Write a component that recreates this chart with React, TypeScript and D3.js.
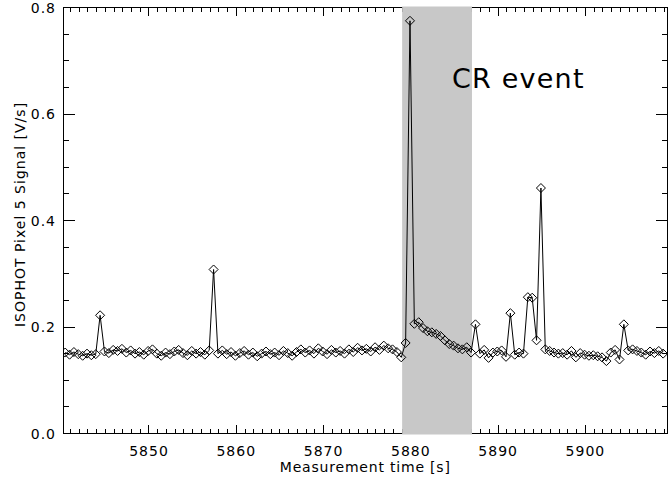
import React from "react";
import * as d3 from "d3";

// Sampling of the detector readout: first sample time and interval (s)
const T0 = 5840.4;
const DT = 0.5;

// ISOPHOT pixel 5 signal [V/s], one value per sample
const signal: number[] = [
  0.152, 0.148, 0.153, 0.149, 0.146, 0.150, 0.147, 0.149,
  0.222,
  0.154, 0.151, 0.157, 0.155, 0.159, 0.152, 0.156, 0.150, 0.153, 0.148,
  0.155, 0.158, 0.150, 0.146, 0.152, 0.149, 0.154, 0.157, 0.151, 0.147,
  0.155, 0.150, 0.153, 0.148, 0.156,
  0.308,
  0.150, 0.156, 0.149, 0.153, 0.146, 0.151, 0.155, 0.148, 0.152, 0.145,
  0.150, 0.154, 0.149, 0.152, 0.147, 0.155, 0.151, 0.146, 0.153, 0.158,
  0.152, 0.156, 0.150, 0.160, 0.154, 0.149, 0.157, 0.152, 0.155, 0.150,
  0.158, 0.153, 0.161, 0.156, 0.159, 0.154, 0.162, 0.157, 0.165, 0.160,
  0.158, 0.153, 0.143,
  0.170,
  0.775,
  0.206, 0.209, 0.198, 0.192, 0.190, 0.187, 0.183, 0.175, 0.168, 0.165,
  0.160, 0.158, 0.162, 0.152,
  0.205,
  0.150, 0.157, 0.142, 0.152, 0.154, 0.156, 0.144,
  0.226,
  0.148, 0.152, 0.150,
  0.256, 0.255, 0.175, 0.461,
  0.158, 0.155, 0.152, 0.150, 0.151, 0.148, 0.155, 0.143, 0.151, 0.148,
  0.146, 0.147, 0.145, 0.143, 0.136, 0.152, 0.157, 0.139,
  0.205,
  0.156, 0.158, 0.155, 0.152, 0.148, 0.154, 0.151, 0.155, 0.150,
];

// Axis extents and tick values
const xDomain: [number, number] = [5840.15, 5909.4];
const yDomain: [number, number] = [0, 0.8];
const xMajorTicks = [5850, 5860, 5870, 5880, 5890, 5900];
const yMajorTicks = [0.0, 0.2, 0.4, 0.6, 0.8];

// Cosmic-ray event window (s)
const crWindow: [number, number] = [5879, 5887];
const crLabel = "CR event";

const W = 668;
const H = 480;
const left = 63;
const right = 667.5;
const top = 7.5;
const bottom = 433.5;

const FONT = "'DejaVu Sans', sans-serif";

export default function App() {
  const x = d3.scaleLinear().domain(xDomain).range([left, right]);
  const y = d3.scaleLinear().domain(yDomain).range([bottom, top]);

  const points = signal.map((v, i) => ({ t: T0 + i * DT, v }));

  const xMinor = d3.range(Math.ceil(xDomain[0]), Math.floor(xDomain[1]) + 1, 1)
    .filter((t) => t % 10 !== 0);
  const yMinor = d3.range(0, 0.8001, 0.05)
    .filter((v) => Math.abs(v / 0.2 - Math.round(v / 0.2)) > 1e-6);

  const xMajLen = 8.5;
  const xMinLen = 4.3;
  const yMajLen = 12;
  const yMinLen = 6;

  const line = d3
    .line<{ t: number; v: number }>()
    .x((d) => x(d.t))
    .y((d) => y(d.v));

  const diamond = (cx: number, cy: number, r = 4.5) =>
    `M${cx},${cy - r}L${cx + r},${cy}L${cx},${cy + r}L${cx - r},${cy}Z`;

  return (
    <svg
      width={W}
      height={H}
      style={{ position: "absolute", left: 0, top: 0, background: "#fff" }}
    >
      <defs>
        <clipPath id="plot-area">
          <rect x={left} y={top - 2} width={W - left} height={bottom - top + 4} />
        </clipPath>
      </defs>
      <rect width={W} height={H} fill="#fff" />

      {/* frame and ticks */}
      <g stroke="#000" strokeWidth={1} shapeRendering="crispEdges">
        <rect x={left} y={top} width={right - left} height={bottom - top} fill="none" />
        {xMajorTicks.map((t) => (
          <g key={`xm${t}`}>
            <line x1={x(t)} x2={x(t)} y1={bottom} y2={bottom - xMajLen} />
            <line x1={x(t)} x2={x(t)} y1={top} y2={top + xMajLen} />
          </g>
        ))}
        {xMinor.map((t) => (
          <g key={`xn${t}`}>
            <line x1={x(t)} x2={x(t)} y1={bottom} y2={bottom - xMinLen} />
            <line x1={x(t)} x2={x(t)} y1={top} y2={top + xMinLen} />
          </g>
        ))}
        {yMajorTicks.map((v) => (
          <g key={`ym${v}`}>
            <line x1={left} x2={left + yMajLen} y1={y(v)} y2={y(v)} />
            <line x1={right} x2={right - yMajLen} y1={y(v)} y2={y(v)} />
          </g>
        ))}
        {yMinor.map((v) => (
          <g key={`yn${v}`}>
            <line x1={left} x2={left + yMinLen} y1={y(v)} y2={y(v)} />
            <line x1={right} x2={right - yMinLen} y1={y(v)} y2={y(v)} />
          </g>
        ))}
      </g>

      {/* event window */}
      <rect
        x={x(crWindow[0])}
        y={top - 1}
        width={x(crWindow[1]) - x(crWindow[0])}
        height={bottom - top + 2}
        fill="#c8c8c8"
      />

      {/* signal */}
      <g clipPath="url(#plot-area)">
        <path d={line(points) ?? ""} fill="none" stroke="#000" strokeWidth={1} />
        {points.map((p, i) => (
          <path
            key={i}
            d={diamond(x(p.t), y(p.v))}
            fill="none"
            stroke="#000"
            strokeWidth={1}
          />
        ))}
      </g>

      {/* tick labels */}
      <g fontFamily={FONT} fontSize={14} fill="#000" letterSpacing={1}>
        {xMajorTicks.map((t) => (
          <text key={`xl${t}`} x={x(t)} y={456} textAnchor="middle">
            {t}
          </text>
        ))}
        {yMajorTicks.map((v) => (
          <text key={`yl${v}`} x={56} y={y(v) + 5} textAnchor="end">
            {v.toFixed(1)}
          </text>
        ))}
      </g>

      {/* axis titles */}
      <text
        x={(left + right) / 2}
        y={472}
        textAnchor="middle"
        fontFamily={FONT}
        fontSize={14}
        letterSpacing={0.8}
      >
        Measurement time [s]
      </text>
      <text
        transform={`translate(25, ${(top + bottom) / 2 - 6}) rotate(-90)`}
        textAnchor="middle"
        fontFamily={FONT}
        fontSize={14}
        letterSpacing={1}
      >
        ISOPHOT Pixel 5 Signal [V/s]
      </text>

      <text
        x={452}
        y={88}
        fontFamily={FONT}
        fontSize={27}
        letterSpacing={1.2}
        fill="#000"
      >
        {crLabel}
      </text>
    </svg>
  );
}
